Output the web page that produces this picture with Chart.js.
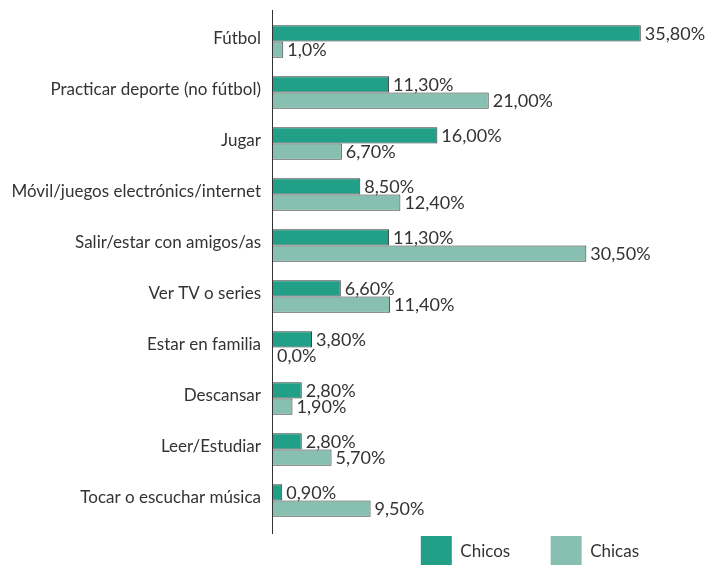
<!DOCTYPE html>
<html>
<head>
<meta charset="utf-8">
<script src="https://cdn.jsdelivr.net/npm/chart.js@4/dist/chart.umd.min.js"></script>
<style>
html,body{margin:0;padding:0;background:#fff;}
#wrap{width:707px;height:565px;}
</style>
</head>
<body>
<div id="wrap"><canvas id="c" width="707" height="565"></canvas></div>
<script>
const categories = ["Fútbol","Practicar deporte (no fútbol)","Jugar","Móvil/juegos electrónics/internet","Salir/estar con amigos/as","Ver TV o series","Estar en familia","Descansar","Leer/Estudiar","Tocar o escuchar música"];
const chicos = [35.8, 11.3, 16.0, 8.5, 11.3, 6.6, 3.8, 2.8, 2.8, 0.9];
const chicas = [1.0, 21.0, 6.7, 12.4, 30.5, 11.4, 0.0, 1.9, 5.7, 9.5];
const chicosLabels = ["35,80%","11,30%","16,00%","8,50%","11,30%","6,60%","3,80%","2,80%","2,80%","0,90%"];
const chicasLabels = ["1,0%","21,00%","6,70%","12,40%","30,50%","11,40%","0,0%","1,90%","5,70%","9,50%"];
const seriesNames = ["Chicos","Chicas"];

const FONT = "Lato";
const TXT = "#333333";

const valueLabels = {
  id: 'valueLabels',
  afterDatasetsDraw(chart) {
    const ctx = chart.ctx;
    ctx.save();
    ctx.font = "18px " + FONT;
    ctx.fillStyle = TXT;
    ctx.textBaseline = 'middle';
    ctx.textAlign = 'left';
    const lbls = [chicosLabels, chicasLabels];
    chart.data.datasets.forEach((ds, di) => {
      chart.getDatasetMeta(di).data.forEach((el, i) => {
        ctx.fillText(lbls[di][i], el.x + 4, el.y + 1);
      });
    });
    ctx.restore();
  }
};
const axisLine = {
  id: 'axisLine',
  afterDatasetsDraw(chart) {
    const ctx = chart.ctx, a = chart.chartArea;
    ctx.save();
    ctx.strokeStyle = '#333';
    ctx.lineWidth = 1;
    ctx.beginPath();
    ctx.moveTo(Math.round(a.left) - 0.5, a.top - 6);
    ctx.lineTo(Math.round(a.left) - 0.5, a.bottom + 8);
    ctx.stroke();
    ctx.restore();
  }
};

new Chart(document.getElementById('c'), {
  type: 'bar',
  data: {
    labels: categories,
    datasets: [
      { label: seriesNames[0], data: chicos, backgroundColor: '#229f87', borderColor: '#3a3a3a', borderWidth: 1, categoryPercentage: 0.64, barPercentage: 1.0 },
      { label: seriesNames[1], data: chicas, backgroundColor: '#87c0b0', borderColor: '#3a3a3a', borderWidth: 1, categoryPercentage: 0.64, barPercentage: 1.0 }
    ]
  },
  options: {
    indexAxis: 'y',
    responsive: false,
    animation: false,
    layout: { padding: { top: 16, bottom: -12, left: 0, right: 58 } },
    scales: {
      x: { display: false, min: 0, max: 36.6 },
      y: {
        grid: { display: false, drawTicks: false },
        border: { display: false },
        ticks: { color: TXT, font: { family: FONT, size: 17 }, padding: 12, labelOffset: -3 },
        afterFit(s) { s.width = 273; s.paddingTop = 0; s.paddingBottom = 0; }
      }
    },
    plugins: {
      tooltip: { enabled: false },
      legend: {
        position: 'bottom',
        align: 'end',
        labels: {
          boxWidth: 31,
          boxHeight: 31,
          padding: 10,
          color: TXT,
          font: { family: FONT, size: 17 },
          generateLabels(chart) {
            return chart.data.datasets.map((ds, i) => ({
              text: i === 0 ? ds.label + "\u00a0\u00a0\u00a0\u00a0\u00a0\u00a0\u00a0" : ds.label,
              fillStyle: ds.backgroundColor,
              strokeStyle: ds.backgroundColor,
              lineWidth: 0,
              fontColor: TXT,
              datasetIndex: i,
              hidden: false
            }));
          }
        }
      }
    }
  },
  plugins: [valueLabels, axisLine]
});
</script>
</body>
</html>
